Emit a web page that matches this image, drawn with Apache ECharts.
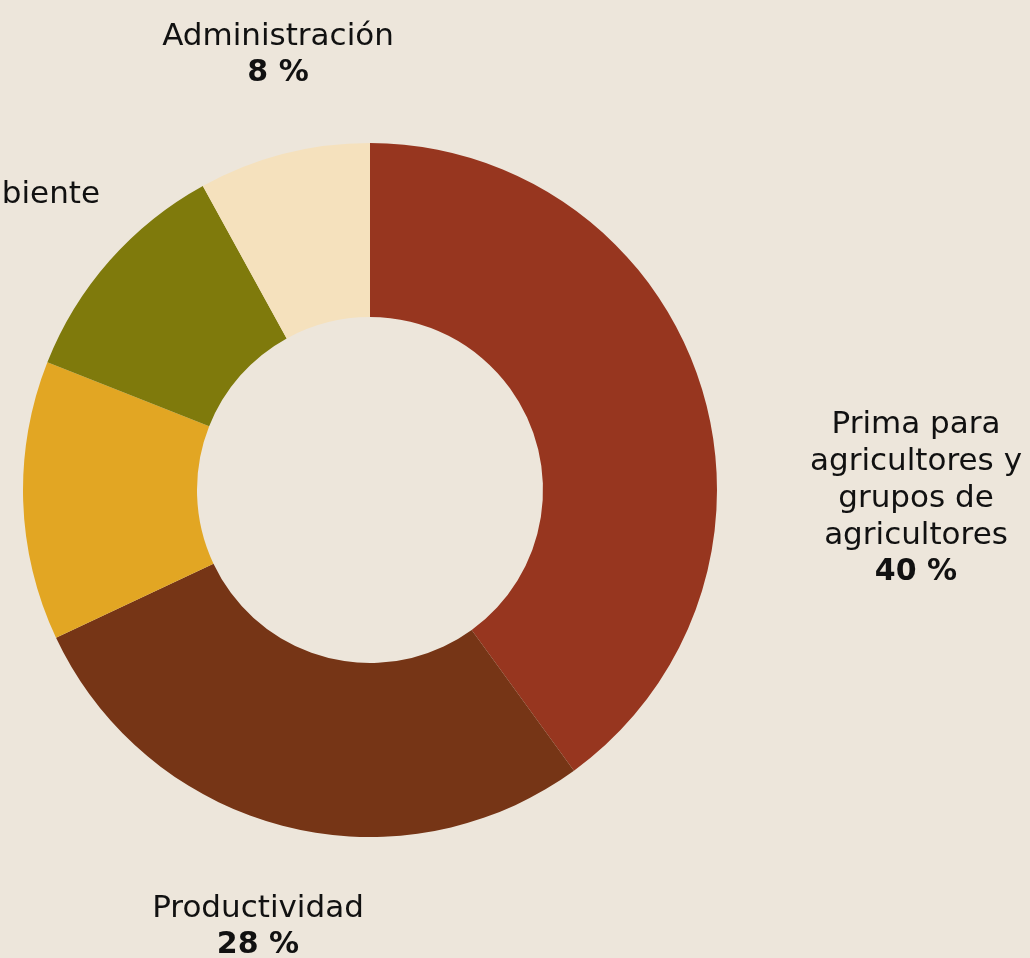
<!DOCTYPE html>
<html><head><meta charset="utf-8">
<script src="https://cdn.jsdelivr.net/npm/echarts@6/dist/echarts.min.js"></script>
<style>html,body{margin:0;padding:0;background:#ede6db;}#c{width:1030px;height:958px;}</style>
</head><body><div id="c"></div>
<script>
const categories = ['Prima para\nagricultores y\ngrupos de\nagricultores', 'Productividad', 'Comunidad', 'Medio ambiente', 'Administración'];
const values = [40, 28, 13, 11, 8];
const colors = ['#97361f', '#763516', '#e2a623', '#7f7a0c', '#f5e1bd'];
const showPct = [true, true, true, false, true];
// label anchor layout (pixels)
const labelPos = [
  {x: 916, y: 406, align: 'center'},
  {x: 258, y: 890, align: 'center'},
  {x: -200, y: 520, align: 'right'},
  {x: 100, y: 176, align: 'right'},
  {x: 278, y: 18, align: 'center'}
];
const FONT = 'DejaVu Sans';
const chart = echarts.init(document.getElementById('c'));
chart.setOption({
  backgroundColor: '#ede6db',
  animation: false,
  series: [{
    type: 'pie',
    center: [370, 490],
    radius: [173, 347],
    startAngle: 90,
    clockwise: true,
    silent: true,
    labelLine: {show: false},
    label: {
      show: true,
      position: 'outside',
      overflow: 'none',
      fontFamily: FONT,
      formatter: p => showPct[p.dataIndex]
        ? p.name.split('\n').map(s => '{n|' + s + '}').join('\n') + '\n{v|' + p.value + ' %}'
        : '{n|' + p.name + '}',
      rich: {
        n: {fontFamily: FONT, fontSize: 31, lineHeight: 37, color: '#111', fontWeight: 400},
        v: {fontFamily: FONT, fontSize: 30, lineHeight: 37, color: '#111', fontWeight: 700}
      }
    },
    labelLayout: p => {
      const lp = labelPos[p.dataIndex];
      return {x: lp.x, y: lp.y, align: lp.align, verticalAlign: 'top', hideOverlap: false};
    },
    data: categories.map((c, i) => ({name: c, value: values[i], itemStyle: {color: colors[i]}}))
  }]
});
</script></body></html>
